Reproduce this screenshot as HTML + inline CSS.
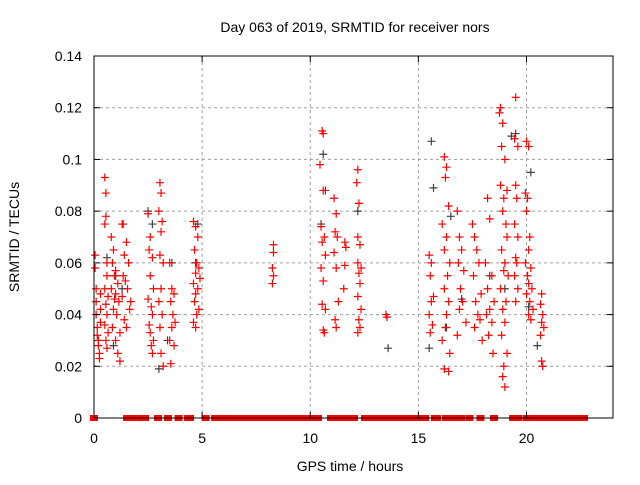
<!DOCTYPE html>
<html><head><meta charset="utf-8"><style>
body{margin:0;background:#fff}
text{font-family:"Liberation Sans",sans-serif;font-size:14px;fill:#000}
</style></head><body>
<svg id="chart" width="640" height="480" xmlns="http://www.w3.org/2000/svg">
<rect width="640" height="480" fill="#fff"/>
<text x="355" y="32" text-anchor="middle">Day 063 of 2019, SRMTID for receiver nors</text>
<text x="350" y="471" text-anchor="middle">GPS time / hours</text>
<text x="19" y="237" text-anchor="middle" transform="rotate(-90 19 237)">SRMTID / TECUs</text>
<g id="grid"></g>
<g id="grey"></g>
<g id="red"></g>
<g id="axes"></g>
</svg>
<script>
const xTicks=[0,5,10,15,20];
const yTicks=[0,0.02,0.04,0.06,0.08,0.1,0.12,0.14];
const yTickLabels=["0","0.02","0.04","0.06","0.08","0.1","0.12","0.14"];
const redX=[0.05,0.05,0.1,0.1,0.1,0.15,0.15,0.2,0.2,0.25,0.25,0.3,0.3,0.3,
0.5,0.55,0.55,0.5,0.6,0.6,0.5,0.65,0.55,0.6,0.5,0.65,0.55,0.6,
0.8,0.9,0.85,1.0,0.95,1.1,0.8,1.0,1.15,0.9,1.05,0.85,1.2,1.0,1.1,1.2,0.95,
1.3,1.5,1.4,1.6,1.35,1.45,1.55,1.3,1.65,1.4,1.5,1.7,1.35,
2.5,2.6,2.55,2.7,2.6,2.75,2.5,2.65,2.7,2.55,2.6,2.75,2.65,2.7,
3.05,3.1,3.0,3.15,3.1,3.05,3.2,3.1,3.0,3.15,3.05,3.1,3.2,
3.5,3.6,3.7,3.55,3.65,3.75,3.6,3.5,3.7,3.55,
4.6,4.7,4.8,4.65,4.75,4.85,4.7,4.9,4.6,4.8,4.7,4.65,4.85,4.75,4.6,4.7,
8.3,8.3,8.25,8.3,8.25,
10.6,10.55,10.45,10.6,10.5,10.65,10.55,10.7,10.5,10.6,10.55,10.7,10.6,10.65,
11.1,11.2,11.15,11.25,11.1,11.2,11.3,11.15,11.2,
11.6,11.65,11.6,11.55,
12.2,12.15,12.25,12.2,12.3,12.2,12.35,12.25,12.3,12.2,12.35,12.25,12.3,12.2,
13.5,13.55,
15.5,15.6,15.55,15.7,15.6,15.5,15.65,15.55,
16.2,16.3,16.25,16.4,16.1,16.3,16.2,16.45,16.35,16.2,16.4,16.3,16.25,16.1,16.45,16.2,16.4,
16.8,16.9,17.0,16.85,17.1,16.95,17.05,16.9,17.2,16.8,
17.5,17.6,17.7,17.8,17.55,17.9,17.65,17.75,17.85,17.6,17.95,
18.2,18.3,18.1,18.4,18.2,18.5,18.3,18.15,18.4,18.25,18.45,
18.8,18.75,18.9,18.85,19.0,18.8,19.1,18.95,18.9,19.05,19.1,18.85,19.0,18.95,19.15,18.8,19.05,18.9,19.0,18.85,19.1,18.95,18.9,19.0,
19.5,19.45,19.6,19.5,19.55,19.45,19.6,19.5,19.55,19.45,19.6,19.5,
20.0,20.1,19.95,20.05,20.0,20.15,20.1,19.95,20.2,20.05,20.1,20.25,20.0,20.15,20.3,20.1,20.2,
20.7,20.65,20.75,20.7,20.8,20.65,20.7,20.75];
const redY=[0.063,0.058,0.05,0.045,0.04,0.035,0.032,0.03,0.028,0.025,0.023,0.037,0.042,0.048,
0.093,0.087,0.078,0.075,0.06,0.055,0.05,0.047,0.044,0.04,0.036,0.033,0.03,0.027,
0.07,0.065,0.06,0.057,0.055,0.052,0.05,0.048,0.045,0.042,0.04,0.035,0.033,0.03,0.025,0.022,0.046,
0.075,0.068,0.063,0.06,0.055,0.053,0.05,0.047,0.042,0.038,0.035,0.045,0.075,
0.079,0.07,0.065,0.062,0.055,0.05,0.046,0.043,0.04,0.036,0.033,0.03,0.028,0.025,
0.091,0.087,0.08,0.076,0.072,0.063,0.06,0.05,0.045,0.04,0.035,0.025,0.02,
0.06,0.05,0.048,0.045,0.04,0.037,0.035,0.03,0.028,0.021,
0.076,0.074,0.07,0.065,0.06,0.058,0.056,0.054,0.052,0.05,0.048,0.045,0.042,0.04,0.037,0.035,
0.067,0.064,0.058,0.055,0.052,
0.11,0.111,0.098,0.088,0.074,0.07,0.068,0.063,0.058,0.053,0.044,0.042,0.034,0.033,
0.085,0.079,0.072,0.07,0.064,0.058,0.045,0.038,0.035,
0.068,0.066,0.059,0.05,
0.096,0.091,0.083,0.07,0.067,0.06,0.058,0.056,0.052,0.047,0.042,0.038,0.035,0.033,
0.04,0.039,
0.063,0.06,0.055,0.047,0.045,0.04,0.036,0.033,
0.101,0.097,0.093,0.082,0.075,0.07,0.065,0.06,0.055,0.05,0.045,0.04,0.035,0.03,0.025,0.019,0.018,
0.08,0.07,0.065,0.06,0.057,0.05,0.045,0.042,0.037,0.032,
0.075,0.07,0.065,0.06,0.055,0.048,0.045,0.04,0.038,0.035,0.03,
0.085,0.077,0.06,0.055,0.05,0.045,0.042,0.04,0.037,0.032,0.025,
0.12,0.118,0.114,0.105,0.1,0.09,0.088,0.085,0.08,0.075,0.07,0.065,0.06,0.057,0.055,0.05,0.045,0.042,0.037,0.032,0.025,0.02,0.016,0.012,
0.124,0.108,0.105,0.09,0.085,0.075,0.07,0.062,0.06,0.055,0.05,0.045,
0.107,0.105,0.087,0.085,0.08,0.07,0.065,0.06,0.058,0.055,0.052,0.05,0.048,0.045,0.042,0.04,0.038,
0.048,0.044,0.04,0.037,0.035,0.032,0.022,0.02];
const greyX=[0.6,1.0,1.3,2.5,2.7,3.0,3.6,3.4,4.8,4.7,10.6,10.7,10.5,12.2,13.6,15.6,15.7,15.5,16.5,16.3,17.0,18.3,19.0,19.3,19.5,20.1,20.5,20.2,0.2,0.9];
const greyY=[0.062,0.055,0.05,0.08,0.075,0.019,0.06,0.03,0.075,0.06,0.102,0.088,0.075,0.08,0.027,0.107,0.089,0.027,0.078,0.035,0.046,0.055,0.05,0.109,0.11,0.043,0.028,0.095,0.03,0.028];
const zeroX=[0.0,1.53,1.80,2.17,2.36,2.96,3.42,3.91,4.35,4.44,5.16,5.60,5.78,5.97,6.15,6.34,6.52,6.84,7.03,7.24,7.42,7.60,7.77,8.05,8.19,8.37,8.51,8.62,8.92,9.11,9.29,9.48,9.62,9.92,10.22,10.36,10.96,11.05,11.38,11.72,12.02,12.53,12.81,12.99,13.18,13.36,13.55,13.73,13.92,14.10,14.29,14.47,14.66,14.84,15.03,15.21,15.31,15.77,15.86,16.28,16.65,16.83,16.97,17.36,17.87,18.50,19.38,19.63,20.02,20.12,20.44,20.72,20.90,21.09,21.27,21.46,21.64,21.83,22.01,22.20,22.38,22.57,22.66];

const L=94,R=613,T=56,B=418,XMAX=24,YMAX=0.14;
const sx=v=>L+(R-L)*v/XMAX, sy=v=>B-(B-T)*v/YMAX;
const NS="http://www.w3.org/2000/svg";
function mk(tag,attrs,parent){const e=document.createElementNS(NS,tag);for(const k in attrs)e.setAttribute(k,attrs[k]);parent.appendChild(e);return e;}
const grid=document.getElementById('grid'),axes=document.getElementById('axes');
xTicks.forEach(t=>{
 const x=sx(t);
 if(t>0){const g=mk('line',{x1:x,y1:T,x2:x,y2:B,stroke:'#a0a0a0','stroke-dasharray':'3,3'},grid);
 
 }
 const tl=mk('text',{x:x,y:B+25,'text-anchor':'middle'},axes);tl.textContent=t;
 
 
 mk('line',{x1:x,y1:B,x2:x,y2:B-6,stroke:'#000'},axes);
 mk('line',{x1:x,y1:T,x2:x,y2:T+6,stroke:'#000'},axes);
});
yTicks.forEach((t,i)=>{
 const y=sy(t);
 if(t>0&&t<YMAX){const g=mk('line',{x1:L,y1:y,x2:R,y2:y,stroke:'#a0a0a0','stroke-dasharray':'3,3'},grid);
 
 }
 const tl=mk('text',{x:L-12,y:y+5,'text-anchor':'end'},axes);tl.textContent=yTickLabels[i];
 
 
 mk('line',{x1:L,y1:y,x2:L+6,y2:y,stroke:'#000'},axes);
 mk('line',{x1:R,y1:y,x2:R-6,y2:y,stroke:'#000'},axes);
});
function cross(g,x,y,c,w){const p=mk('path',{d:`M${sx(x)-4},${sy(y)}h8M${sx(x)},${sy(y)-4}v8`,stroke:c,'stroke-width':w,fill:'none'},g);return p;}
const gg=document.getElementById('grey'),rg=document.getElementById('red');
greyX.forEach((x,i)=>{const p=cross(gg,x,greyY[i],'#404040',1.2);
 
 });
redX.forEach((x,i)=>{const p=cross(rg,x,redY[i],'#ff0000',1.2);
 
 });
zeroX.forEach(x=>{const p=mk('rect',{x:sx(x)-4,y:B-3,width:8,height:6,fill:'#ff0000'},rg);
 
 });
const fr=mk('rect',{x:L,y:T,width:R-L,height:B-T,fill:'none',stroke:'#000'},axes);


</script>
</body></html>
